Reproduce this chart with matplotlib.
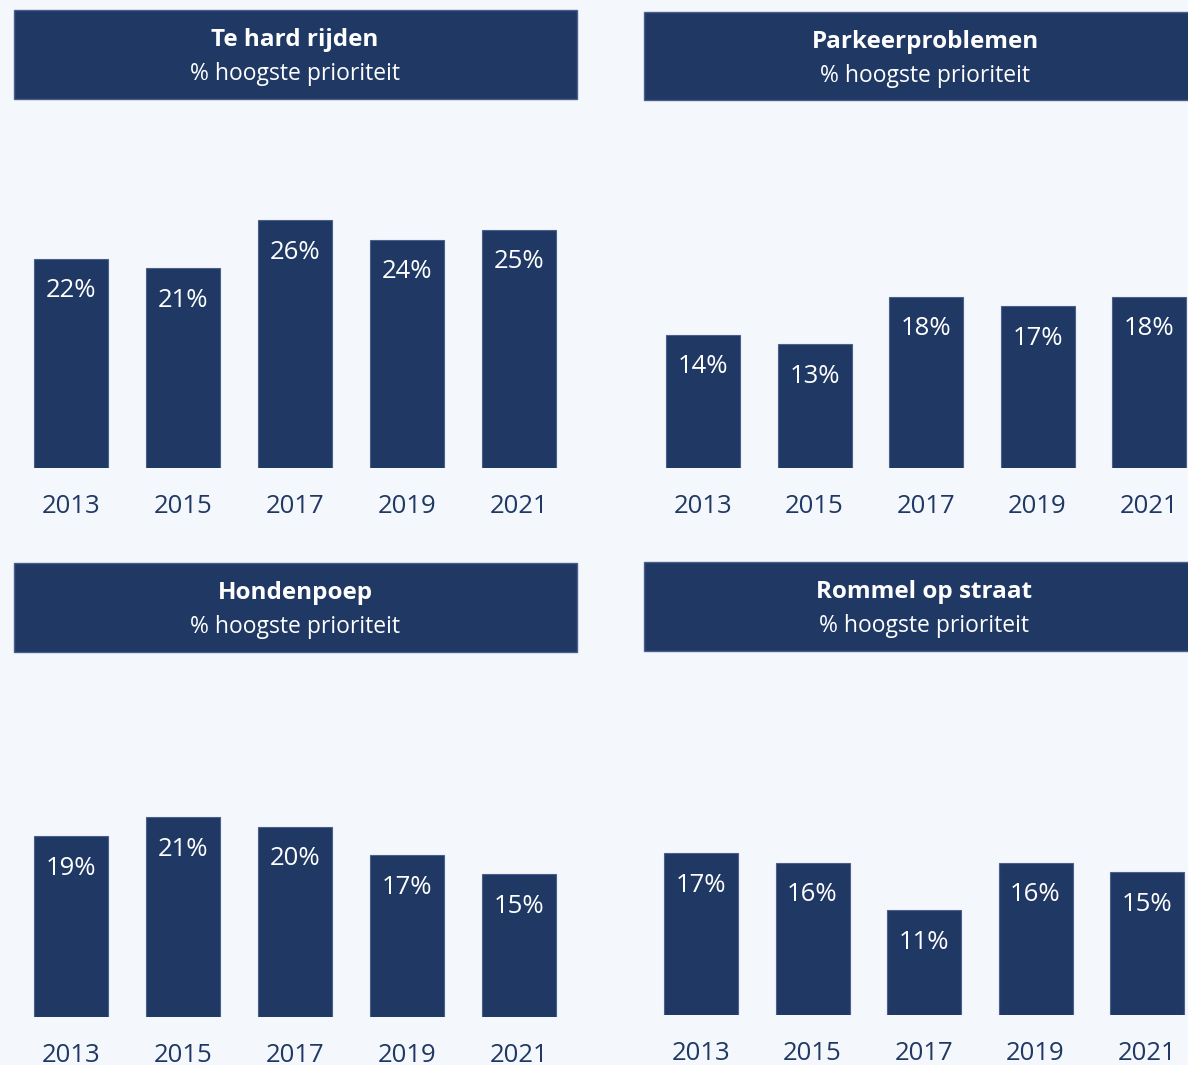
import matplotlib.pyplot as plt
from matplotlib.patches import Rectangle

plt.rcParams['font.family'] = ['Open Sans', 'DejaVu Sans']

years = ['2013', '2015', '2017', '2019', '2021']
titles = ['Te hard rijden', 'Parkeerproblemen', 'Hondenpoep', 'Rommel op straat']
subtitle = '% hoogste prioriteit'
te_hard_rijden = [22, 21, 26, 24, 25]
parkeerproblemen = [14, 13, 18, 17, 18]
hondenpoep = [19, 21, 20, 17, 15]
rommel_op_straat = [17, 16, 11, 16, 15]
series = [te_hard_rijden, parkeerproblemen, hondenpoep, rommel_op_straat]

navy = '#203864'
edge = '#4a5f8c'
bg = '#F4F8FC'

W, H = 1188, 1065
fig = plt.figure(figsize=(W / 100, H / 100), dpi=100, facecolor=bg)

# pixel layout (from top-left): header box, first bar centre, slot, baseline
panels = [
    dict(box=(14, 10, 563, 89), cx=71, slot=112, base=468, tx=295),
    dict(box=(644, 12, 560, 88), cx=703, slot=111.5, base=468, tx=925),
    dict(box=(14, 563, 563, 89), cx=71, slot=112, base=1017, tx=295),
    dict(box=(644, 562, 560, 89), cx=701, slot=111.5, base=1015, tx=924),
]
px_per_pct = 9.52
ymax = 30

for p, title, vals in zip(panels, titles, series):
    bx, by, bw, bh = p['box']
    fig.patches.append(Rectangle((bx / W, 1 - (by + bh) / H), bw / W, bh / H,
                                 transform=fig.transFigure, facecolor=navy,
                                 edgecolor=edge, linewidth=1))
    fig.text(p['tx'] / W, 1 - (by + 30) / H, title, ha='center', va='center',
             color='white', fontsize=17.5, fontweight='bold')
    fig.text(p['tx'] / W, 1 - (by + 64) / H, subtitle, ha='center', va='center',
             color='white', fontsize=16.5)

    left = p['cx'] - p['slot'] / 2
    width = p['slot'] * 5
    height = ymax * px_per_pct
    ax = fig.add_axes([left / W, 1 - p['base'] / H, width / W, height / H])
    ax.set_facecolor('none')
    x = range(len(years))
    ax.bar(x, vals, width=74 / p['slot'], color=navy, edgecolor=edge, linewidth=0.8)
    for xi, v in zip(x, vals):
        ax.annotate(f'{v}%', (xi, v), xytext=(0, -23), textcoords='offset points',
                    ha='center', va='center', color='white', fontsize=18.5)
    ax.set_xlim(-0.5, 4.5)
    ax.set_ylim(0, ymax)
    ax.set_xticks(list(x))
    ax.set_xticklabels(years, fontsize=18.5, color=navy)
    ax.tick_params(axis='x', length=0, pad=19)
    ax.set_yticks([])
    for s in ax.spines.values():
        s.set_visible(False)

fig.savefig('out.png', dpi=100, facecolor=bg)
